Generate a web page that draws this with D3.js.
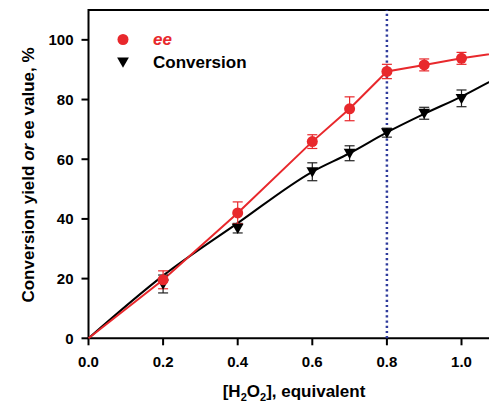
<!DOCTYPE html>
<html>
<head>
<meta charset="utf-8">
<script src="https://cdn.jsdelivr.net/npm/d3@7"></script>
<style>
  body { margin: 0; background: #fff; }
  svg { display: block; font-family: "Liberation Sans", Arial, sans-serif; font-weight: bold; }
</style>
</head>
<body>
<svg id="chart" width="489" height="402"></svg>
<script>
/* data */

const xTicks = [0.0, 0.2, 0.4, 0.6, 0.8, 1.0];
const yTicks = [0, 20, 40, 60, 80, 100];

// ee, % (red circles)
const eeX = [0, 0.2, 0.4, 0.6, 0.7, 0.8, 0.9, 1.0, 1.2];
const eeY = [0, 19.6, 42, 65.9, 76.9, 89.4, 91.6, 93.8, 97.5];
const eeErr = [0, 3, 3.7, 2.3, 4, 2.4, 2, 2, 2];

// conversion, % (black triangles)
const convX = [0.2, 0.4, 0.6, 0.7, 0.8, 0.9, 1.0];
const convY = [18.2, 36.9, 55.8, 62.0, 68.9, 75.4, 80.4];
const convErr = [3, 1.6, 3, 2.5, 1.5, 2, 2.8];

// fitted conversion curve
const fitX = [0, 0.2, 0.4, 0.6, 0.7, 0.8, 0.9, 1.0, 1.1, 1.2];
const fitY = [0, 21, 38.6, 55.8, 62, 69, 75.2, 81, 87.5, 93];

const markLine = 0.8;

/* layout */

const svg = d3.select("#chart");
const mLeft = 88.5, mTop = 10, mBottom = 338.3;

const x = d3.scaleLinear().domain([0, 1.2]).range([mLeft, mLeft + 1.2 * 373]);
const y = d3.scaleLinear().domain([0, 110]).range([mBottom, mTop]);

const red = "#e8282c";

// frame: left and top, x axis at bottom
svg.append("path")
  .attr("d", "M" + x(1.2) + "," + y(110) + "H" + x(0) + "V" + y(0) + "H" + x(1.2))
  .attr("fill", "none")
  .attr("stroke", "#000")
  .attr("stroke-width", 2);

// y ticks
const yg = svg.append("g");
yg.selectAll("line").data(yTicks).enter().append("line")
  .attr("x1", mLeft - 7).attr("x2", mLeft)
  .attr("y1", d => y(d)).attr("y2", d => y(d))
  .attr("stroke", "#000").attr("stroke-width", 2);
yg.selectAll("text").data(yTicks).enter().append("text")
  .attr("x", mLeft - 15)
  .attr("y", d => y(d) + 5.5)
  .attr("text-anchor", "end")
  .attr("font-size", "15px")
  .text(d => d);

// x ticks
const xg = svg.append("g");
xg.selectAll("line").data(xTicks).enter().append("line")
  .attr("x1", d => x(d)).attr("x2", d => x(d))
  .attr("y1", mBottom).attr("y2", mBottom + 7)
  .attr("stroke", "#000").attr("stroke-width", 2);
xg.selectAll("text").data(xTicks).enter().append("text")
  .attr("x", d => x(d))
  .attr("y", 367)
  .attr("text-anchor", "middle")
  .attr("font-size", "15px")
  .text(d => d.toFixed(1));

// axis titles
const ytitle = svg.append("text")
  .attr("transform", "translate(34,175) rotate(-90)")
  .attr("text-anchor", "middle")
  .attr("font-size", "17px");
ytitle.append("tspan").text("Conversion yield ");
ytitle.append("tspan").attr("font-style", "italic").text("or");
ytitle.append("tspan").text(" ee value, %");

const xtitle = svg.append("text")
  .attr("x", 294)
  .attr("y", 397)
  .attr("text-anchor", "middle")
  .attr("font-size", "17px");
xtitle.append("tspan").text("[H");
xtitle.append("tspan").attr("font-size", "11px").attr("dy", 4).text("2");
xtitle.append("tspan").attr("dy", -4).text("O");
xtitle.append("tspan").attr("font-size", "11px").attr("dy", 4).text("2");
xtitle.append("tspan").attr("dy", -4).text("], equivalent");

// dotted marker line
svg.append("line")
  .attr("x1", x(markLine)).attr("x2", x(markLine))
  .attr("y1", y(0)).attr("y2", y(110))
  .attr("stroke", "#2f3b9c")
  .attr("stroke-width", 2.5)
  .attr("stroke-dasharray", "2.2,3");

// conversion fit curve
const fit = fitX.map((d, i) => [d, fitY[i]]);
svg.append("path")
  .datum(fit)
  .attr("fill", "none")
  .attr("stroke", "#000")
  .attr("stroke-width", 2)
  .attr("d", d3.line().x(d => x(d[0])).y(d => y(d[1])).curve(d3.curveMonotoneX));

// ee line
const ee = eeX.map((d, i) => ({ x: d, y: eeY[i], e: eeErr[i] }));
svg.append("path")
  .datum(ee)
  .attr("fill", "none")
  .attr("stroke", red)
  .attr("stroke-width", 2)
  .attr("d", d3.line().x(d => x(d.x)).y(d => y(d.y)));

function errorBars(data, color) {
  const g = svg.append("g").attr("stroke", color).attr("stroke-width", 1.2);
  data.forEach(d => {
    g.append("line").attr("x1", x(d.x)).attr("x2", x(d.x))
      .attr("y1", y(d.y - d.e)).attr("y2", y(d.y + d.e));
    [d.y - d.e, d.y + d.e].forEach(v => {
      g.append("line").attr("x1", x(d.x) - 5).attr("x2", x(d.x) + 5)
        .attr("y1", y(v)).attr("y2", y(v));
    });
  });
}

const conv = convX.map((d, i) => ({ x: d, y: convY[i], e: convErr[i] }));
const eePts = ee.filter(d => d.x > 0);

errorBars(conv, "#222");
errorBars(eePts, red);

const tri = d3.symbol().type(d3.symbolTriangle).size(60);

svg.append("g").selectAll("path").data(conv).enter().append("path")
  .attr("d", tri)
  .attr("transform", d => "translate(" + x(d.x) + "," + (y(d.y) - 1) + ") rotate(180)")
  .attr("fill", "#000");

svg.append("g").selectAll("circle").data(eePts).enter().append("circle")
  .attr("cx", d => x(d.x)).attr("cy", d => y(d.y))
  .attr("r", 5.5)
  .attr("fill", red);

// legend
svg.append("circle").attr("cx", 123).attr("cy", 39.5).attr("r", 5.5).attr("fill", red);
svg.append("path").attr("d", tri)
  .attr("transform", "translate(123,61) rotate(180)")
  .attr("fill", "#000");
svg.append("text").attr("x", 153).attr("y", 45)
  .attr("font-size", "17px").attr("font-style", "italic").attr("fill", red)
  .text("ee");
svg.append("text").attr("x", 153).attr("y", 68)
  .attr("font-size", "17px")
  .text("Conversion");
</script>
</body>
</html>
